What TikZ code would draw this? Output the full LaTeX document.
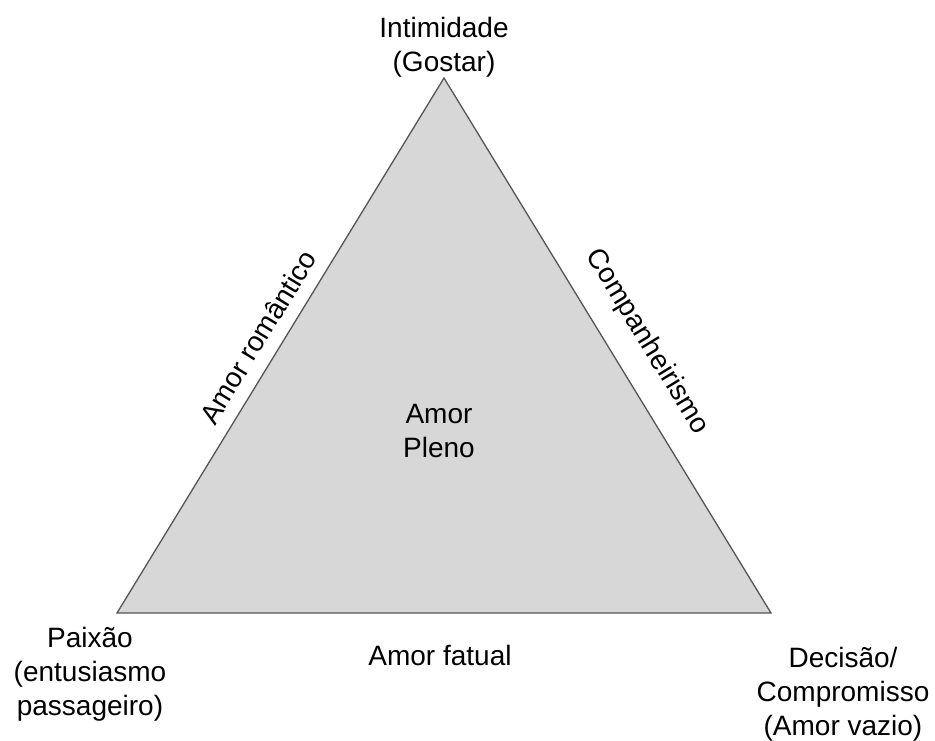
\documentclass[tikz,border=0pt]{standalone}
\usepackage{fontspec}
\setmainfont{Liberation Sans}
\definecolor{trifill}{RGB}{215,215,215}
\definecolor{triline}{RGB}{85,85,85}
\begin{document}
\begin{tikzpicture}[x=1pt,y=-1pt,
  lbl/.style={inner sep=0pt,align=center,font=\fontsize{28}{34}\selectfont},
  tri/.style={draw=triline,fill=trifill,line width=1.3pt,line join=miter}]
\useasboundingbox (0,0) rectangle (935,740);
\coordinate (T) at (444,78);
\coordinate (L) at (117,613);
\coordinate (R) at (771,613);
\draw[tri] (T) -- (L) -- (R) -- cycle;
\node[lbl] (intim) at (444,47) {Intimidade\\(Gostar)};
\node[lbl] (paixao) at (90,674) {Paixão\\(entusiasmo\\passageiro)};
\node[lbl] (decisao) at (843,694) {Decisão/\\Compromisso\\(Amor vazio)};
\node[lbl] (fatual) at (440,655) {Amor fatual};
\node[lbl] (pleno) at (439,431) {Amor\\Pleno};
\node[lbl,rotate=58.6] (romantico) at (258,337) {Amor romântico};
\node[lbl,rotate=-58.6] (compan) at (647,342) {Companheirismo};
\end{tikzpicture}
\end{document}
